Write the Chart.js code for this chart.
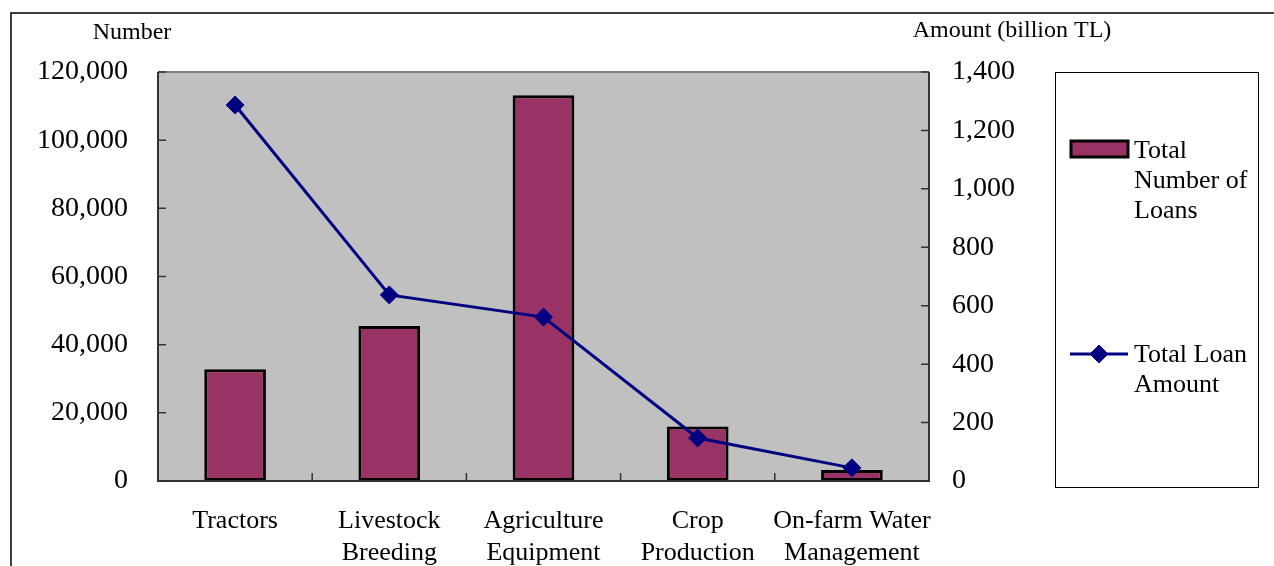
<!DOCTYPE html>
<html>
<head>
<meta charset="utf-8">
<script src="https://cdn.jsdelivr.net/npm/chart.js@4"></script>
<style>
  html, body { margin: 0; padding: 0; background: #ffffff; }
  #wrap { width: 1274px; height: 566px; }
</style>
</head>
<body>
<div id="wrap"><canvas id="c" width="1274" height="566"></canvas></div>
<script>
const categories = [['Tractors'], ['Livestock', 'Breeding'], ['Agriculture', 'Equipment'], ['Crop', 'Production'], ['On-farm Water', 'Management']];
const loanCounts = [32800, 45500, 113200, 16000, 3200];
const loanAmounts = [1287, 637, 561, 147, 45];
const seriesNames = ['Total Number of Loans', 'Total Loan Amount'];
const leftTitle = 'Number';
const rightTitle = 'Amount (billion TL)';

const FONT = '"Liberation Serif", "Times New Roman", serif';
const BAR_COLOR = '#993366';
const LINE_COLOR = '#000080';

function fmt(v) { return Number(v).toLocaleString('en-US'); }

const decor = {
  id: 'decor',
  beforeDraw(chart) {
    const { ctx, chartArea: a } = chart;
    ctx.save();
    ctx.fillStyle = '#C0C0C0';
    ctx.fillRect(a.left, a.top, a.right - a.left, a.bottom - a.top);
    ctx.restore();
  },
  afterDraw(chart) {
    const { ctx, chartArea: a } = chart;
    const ys = chart.scales.y, y1 = chart.scales.y1, xs = chart.scales.x;
    ctx.save();
    ctx.lineWidth = 2;
    ctx.strokeStyle = '#808080';
    ctx.beginPath();
    ctx.moveTo(a.left, a.top); ctx.lineTo(a.right, a.top);
    ctx.stroke();
    ctx.strokeStyle = '#333333';
    ctx.beginPath();
    ctx.moveTo(a.left, a.top); ctx.lineTo(a.left, a.bottom); ctx.lineTo(a.right, a.bottom); ctx.lineTo(a.right, a.top);
    ctx.stroke();
    // inward ticks
    ctx.lineWidth = 1.5;
    ctx.beginPath();
    ys.ticks.forEach(t => { const p = ys.getPixelForValue(t.value); ctx.moveTo(a.left, p); ctx.lineTo(a.left + 8, p); });
    y1.ticks.forEach(t => { const p = y1.getPixelForValue(t.value); ctx.moveTo(a.right, p); ctx.lineTo(a.right - 8, p); });
    const n = categories.length;
    for (let i = 1; i < n; i++) {
      const p = (xs.getPixelForValue(i - 1) + xs.getPixelForValue(i)) / 2;
      ctx.moveTo(p, a.bottom); ctx.lineTo(p, a.bottom - 8);
    }
    ctx.stroke();

    // axis titles
    ctx.fillStyle = '#000';
    ctx.textAlign = 'center';
    ctx.textBaseline = 'middle';
    ctx.font = '24px ' + FONT;
    ctx.fillText(leftTitle, 132, 33);
    ctx.fillText(rightTitle, 1012, 31);

    // outer frame
    ctx.strokeStyle = '#000';
    ctx.lineWidth = 1.5;
    ctx.beginPath();
    ctx.moveTo(11, 566); ctx.lineTo(11, 13); ctx.lineTo(1274, 13);
    ctx.stroke();

    // legend box
    ctx.lineWidth = 1;
    ctx.strokeRect(1055.5, 72.5, 203, 415);
    ctx.font = '26px ' + FONT;
    ctx.textAlign = 'left';
    ctx.textBaseline = 'middle';
    const wrap = (text, maxW) => {
      const words = text.split(' ');
      const lines = [];
      let cur = '';
      words.forEach(wd => {
        const test = cur ? cur + ' ' + wd : wd;
        if (cur && ctx.measureText(test).width > maxW) { lines.push(cur); cur = wd; }
        else cur = test;
      });
      if (cur) lines.push(cur);
      return lines;
    };
    const ds = chart.data.datasets;
    const barDs = ds.find(d => d.type === 'bar');
    const lineDs = ds.find(d => d.type === 'line');
    // bar entry
    ctx.fillStyle = BAR_COLOR;
    ctx.fillRect(1071, 141, 57, 16);
    ctx.strokeStyle = '#000';
    ctx.lineWidth = 3;
    ctx.strokeRect(1071, 141, 57, 16);
    ctx.fillStyle = '#000';
    wrap(barDs.label, 122).forEach((ln, i) => ctx.fillText(ln, 1134, 151 + i * 30));
    // line entry
    ctx.strokeStyle = LINE_COLOR;
    ctx.lineWidth = 3;
    ctx.beginPath(); ctx.moveTo(1070, 354); ctx.lineTo(1128, 354); ctx.stroke();
    ctx.fillStyle = LINE_COLOR;
    ctx.lineWidth = 1;
    Chart.helpers.drawPoint(ctx, { pointStyle: 'rectRot', radius: 9, borderWidth: 1 }, 1099, 354);
    ctx.fillStyle = '#000';
    wrap(lineDs.label, 122).forEach((ln, i) => ctx.fillText(ln, 1134, 355 + i * 30));
    ctx.restore();
  }
};

new Chart(document.getElementById('c'), {
  type: 'bar',
  data: {
    labels: categories,
    datasets: [
      {
        type: 'line',
        label: seriesNames[1],
        data: loanAmounts,
        yAxisID: 'y1',
        borderColor: LINE_COLOR,
        backgroundColor: LINE_COLOR,
        borderWidth: 3,
        pointStyle: 'rectRot',
        pointRadius: 9,
        pointBorderWidth: 1,
        pointBackgroundColor: LINE_COLOR,
        pointBorderColor: LINE_COLOR,
        tension: 0,
        order: 0
      },
      {
        type: 'bar',
        label: seriesNames[0],
        data: loanCounts,
        yAxisID: 'y',
        backgroundColor: BAR_COLOR,
        borderColor: '#000000',
        borderWidth: 3,
        borderSkipped: false,
        barPercentage: 0.4,
        categoryPercentage: 1.0,
        order: 1
      }
    ]
  },
  options: {
    responsive: false,
    animation: false,
    layout: { padding: { top: 72, left: 0, right: 0, bottom: 0 } },
    plugins: { legend: { display: false }, tooltip: { enabled: false }, title: { display: false } },
    scales: {
      x: {
        grid: { display: false, drawTicks: false },
        border: { display: false },
        ticks: { color: '#000', font: { family: FONT, size: 26, lineHeight: 1.23 }, padding: 24, maxRotation: 0, autoSkip: false },
        afterFit(s) { s.height = 85; }
      },
      y: {
        position: 'left',
        min: 0, max: 120000,
        grid: { display: false, drawTicks: false },
        border: { display: false },
        ticks: { stepSize: 20000, color: '#000', font: { family: FONT, size: 28 }, padding: 30, callback: v => fmt(v) },
        afterFit(s) { s.width = 158; }
      },
      y1: {
        position: 'right',
        min: 0, max: 1400,
        grid: { display: false, drawTicks: false },
        border: { display: false },
        ticks: { stepSize: 200, color: '#000', font: { family: FONT, size: 28 }, padding: 23, callback: v => fmt(v) },
        afterFit(s) { s.width = 345; }
      }
    }
  },
  plugins: [decor]
});
</script>
</body>
</html>
